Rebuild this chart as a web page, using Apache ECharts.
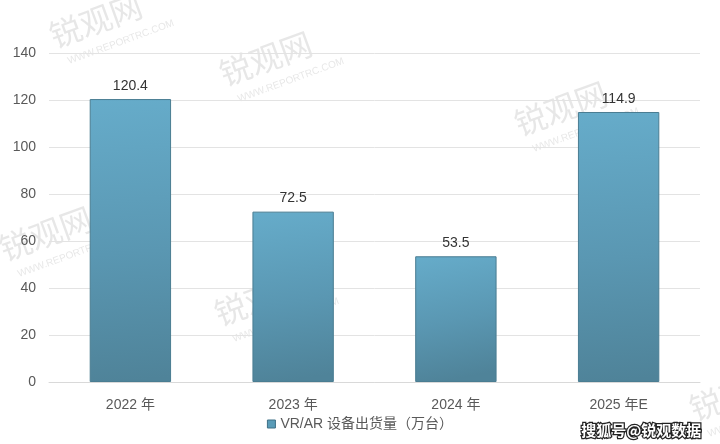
<!DOCTYPE html>
<html><head><meta charset="utf-8">
<script src="https://cdn.jsdelivr.net/npm/echarts@6/dist/echarts.min.js"></script>
<style>html,body{margin:0;padding:0;background:#fff}#c{width:720px;height:444px}</style>
</head><body><div id="c"></div>
<script>
const categories = ['2022 年', '2023 年', '2024 年', '2025 年E'];
const values = [120.4, 72.5, 53.5, 114.9];
const seriesName = 'VR/AR 设备出货量（万台）';
const yTicks = [0, 20, 40, 60, 80, 100, 120, 140];

const chart = echarts.init(document.getElementById('c'));
const barColor = {
  type: 'linear', x: 0, y: 0, x2: 0.3, y2: 1,
  colorStops: [
    {offset: 0, color: '#66acca'},
    {offset: 0.55, color: '#5a97b2'},
    {offset: 1, color: '#4f8399'}
  ]
};
function wm(x, y, rot, op) {
  return {
    type: 'group', x: x, y: y, rotation: rot, silent: true,
    children: [
      {type: 'text', style: {text: '锐观网', x: 0, y: 0, font: '32px "Noto Sans CJK SC"', fill: 'rgba(120,120,120,' + op + ')'}},
      {type: 'text', style: {text: 'WWW.REPORTRC.COM', x: 8, y: 40, font: '10px "Liberation Sans"', fill: 'rgba(120,120,120,' + op + ')'}}
    ]
  };
}
chart.setOption({
  animation: false,
  textStyle: {fontFamily: '"Liberation Sans", Arial, "Noto Sans CJK SC", sans-serif'},
  grid: {left: 49, right: 20, top: 53, bottom: 62},
  xAxis: {
    type: 'category', data: categories,
    axisLine: {lineStyle: {color: '#d9d9d9'}},
    axisTick: {show: false},
    axisLabel: {color: '#595959', fontSize: 14, margin: 16}
  },
  yAxis: {
    type: 'value', min: yTicks[0], max: yTicks[yTicks.length - 1], interval: 20,
    axisLine: {show: false}, axisTick: {show: false},
    axisLabel: {color: '#595959', fontSize: 14, margin: 13},
    splitLine: {lineStyle: {color: '#e3e3e3'}}
  },
  legend: {
    bottom: 8, left: 'center', itemWidth: 8, itemHeight: 8, icon: 'rect',
    textStyle: {color: '#595959', fontSize: 14},
    data: [{name: seriesName, itemStyle: {color: '#5a9cb8', borderColor: '#3f7086', borderWidth: 1}}]
  },
  series: [{
    name: seriesName, type: 'bar', data: values, barWidth: '50%',
    itemStyle: {color: barColor, borderColor: '#4a7d92', borderWidth: 1},
    label: {show: true, position: 'top', color: '#333', fontSize: 14, distance: 6}
  }],
  graphic: [
    wm(45, 22, 0.35, 0.18),
    wm(215, 60, 0.35, 0.18),
    wm(510, 110, 0.35, 0.18),
    wm(-5, 235, 0.35, 0.18),
    wm(210, 300, 0.35, 0.18),
    wm(685, 395, 0.35, 0.18),
    {type: 'text', left: 580, top: 422, silent: true,
     style: {text: '搜狐号@锐观数据', font: 'bold 15px "Noto Sans CJK SC"', fill: '#fff', stroke: '#222', lineWidth: 2.5}}
  ]
});
</script></body></html>
